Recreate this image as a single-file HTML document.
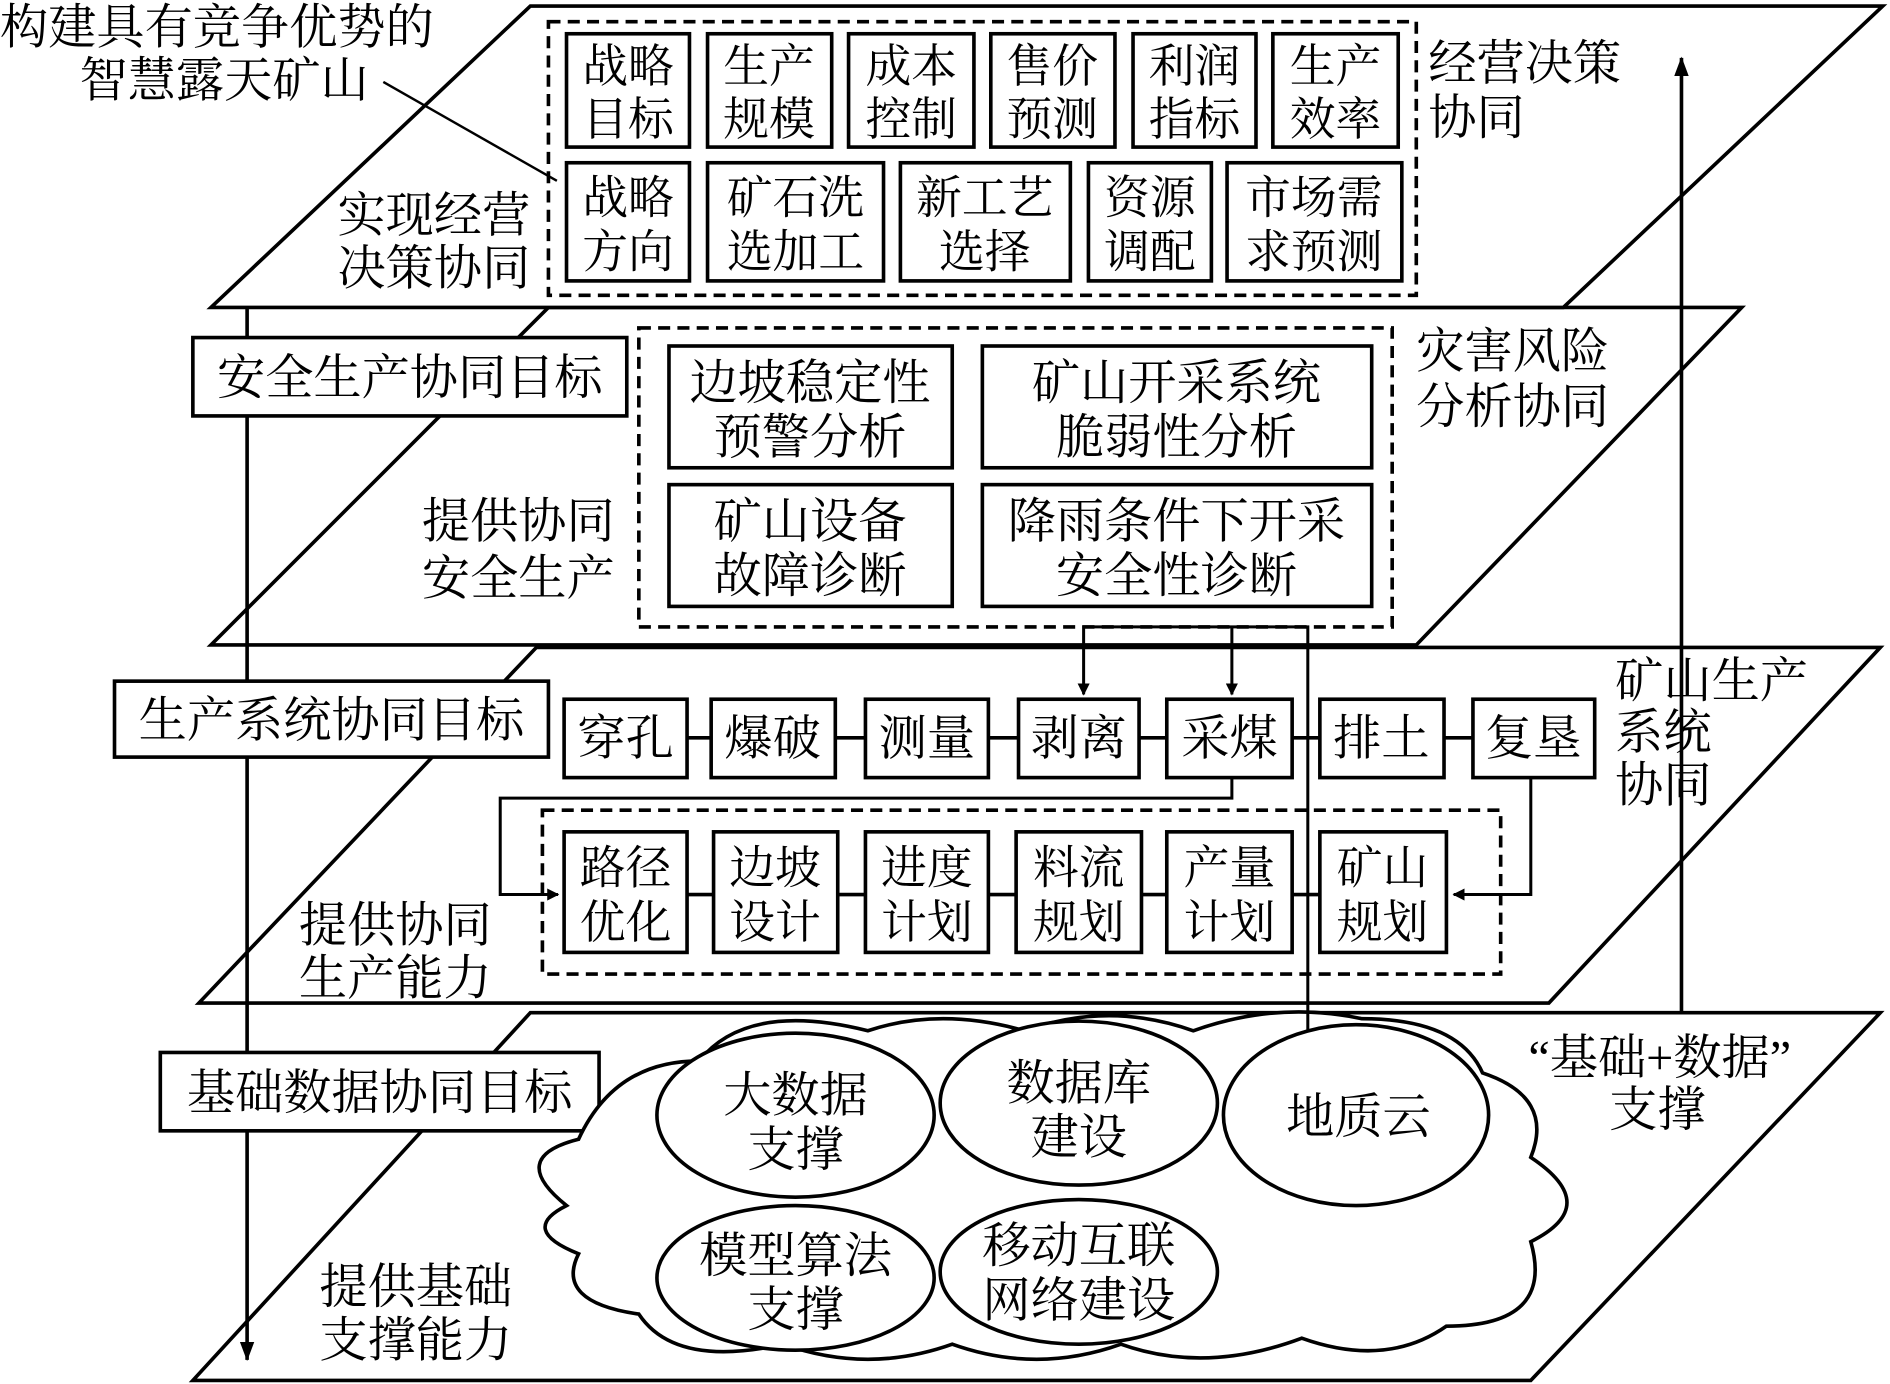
<!DOCTYPE html>
<html><head><meta charset="utf-8"><style>
html,body{margin:0;padding:0;background:#fff;}
svg{display:block;}
text{font-family:"Liberation Serif","Noto Serif CJK SC","Noto Sans CJK SC",serif;fill:#000;}
</style></head><body>
<svg width="1890" height="1384" viewBox="0 0 1568 1148" preserveAspectRatio="none" xmlns="http://www.w3.org/2000/svg">
<defs>
<marker id="ah" markerWidth="10" markerHeight="10" refX="9" refY="5" orient="auto" markerUnits="userSpaceOnUse"><path d="M0,0 L10,5 L0,10 Z" fill="#000"/></marker>
<marker id="ab" markerWidth="16" markerHeight="16" refX="15" refY="8" orient="auto" markerUnits="userSpaceOnUse"><path d="M0,2 L16,8 L0,14 Z" fill="#000"/></marker>
</defs>
<g stroke="#000" stroke-width="3" fill="#fff">
<polygon points="440,840 1560,840 1270,1145 160,1145"/>
<polygon points="445,537 1560,537 1285,832 165,832"/>
<polygon points="455,255 1445,255 1175,535 175,535"/>
<polygon points="440,5 1562,5 1297,255 175,255"/>
</g>
<g stroke="#000" stroke-width="3" fill="none">
<line x1="205" y1="255" x2="205" y2="1128" marker-end="url(#ab)"/>
<line x1="1395" y1="840" x2="1395" y2="48" marker-end="url(#ab)"/>
</g>
<g font-size="40">
<text x="0" y="36">构建具有竞争优势的</text>
<text x="66" y="80">智慧露天矿山</text>
</g>
<line x1="318" y1="68" x2="462" y2="150" stroke="#000" stroke-width="2"/>
<g font-size="40">
<text x="280" y="192">实现经营</text>
<text x="280" y="236">决策协同</text>
<text x="1185" y="66">经营决策</text>
<text x="1185" y="111">协同</text>
</g>
<rect x="455" y="18" width="720" height="227" fill="none" stroke="#000" stroke-width="3" stroke-dasharray="10,6"/>
<g stroke="#000" stroke-width="3" fill="#fff">
<rect x="470" y="28" width="102" height="94"/><rect x="587" y="28" width="103" height="94"/><rect x="704" y="28" width="104" height="94"/><rect x="822" y="28" width="103" height="94"/><rect x="940" y="28" width="102" height="94"/><rect x="1056" y="28" width="104" height="94"/>
<rect x="470" y="135" width="102" height="98"/><rect x="587" y="135" width="146" height="98"/><rect x="747" y="135" width="141" height="98"/><rect x="903" y="135" width="102" height="98"/><rect x="1018" y="135" width="145" height="98"/>
</g>
<g font-size="38" text-anchor="middle">
<text x="521" y="68">战略</text><text x="521" y="112">目标</text>
<text x="638" y="68">生产</text><text x="638" y="112">规模</text>
<text x="756" y="68">成本</text><text x="756" y="112">控制</text>
<text x="873" y="68">售价</text><text x="873" y="112">预测</text>
<text x="991" y="68">利润</text><text x="991" y="112">指标</text>
<text x="1108" y="68">生产</text><text x="1108" y="112">效率</text>
<text x="521" y="177">战略</text><text x="521" y="222">方向</text>
<text x="660" y="177">矿石洗</text><text x="660" y="222">选加工</text>
<text x="817" y="177">新工艺</text><text x="817" y="222">选择</text>
<text x="954" y="177">资源</text><text x="954" y="222">调配</text>
<text x="1090" y="177">市场需</text><text x="1090" y="222">求预测</text>
</g>
<rect x="160" y="280" width="360" height="65" fill="#fff" stroke="#000" stroke-width="3"/>
<text x="340" y="327" font-size="40" text-anchor="middle">安全生产协同目标</text>
<rect x="530" y="272" width="625" height="248" fill="none" stroke="#000" stroke-width="3" stroke-dasharray="10,6"/>
<g stroke="#000" stroke-width="3" fill="#fff">
<rect x="555" y="287" width="235" height="101"/><rect x="815" y="287" width="323" height="101"/>
<rect x="555" y="402" width="235" height="101"/><rect x="815" y="402" width="323" height="101"/>
</g>
<g font-size="40" text-anchor="middle">
<text x="672" y="331">边坡稳定性</text><text x="672" y="376">预警分析</text>
<text x="976" y="331">矿山开采系统</text><text x="976" y="376">脆弱性分析</text>
<text x="672" y="446">矿山设备</text><text x="672" y="491">故障诊断</text>
<text x="976" y="446">降雨条件下开采</text><text x="976" y="491">安全性诊断</text>
</g>
<g font-size="40">
<text x="350" y="446">提供协同</text><text x="350" y="493">安全生产</text>
<text x="1175" y="305">灾害风险</text><text x="1175" y="351">分析协同</text>
</g>
<g stroke="#000" stroke-width="2.5" fill="none">
<polyline points="1085,855 1085,520 899,520 899,576" marker-end="url(#ah)"/>
<line x1="1022" y1="520" x2="1022" y2="576" marker-end="url(#ah)"/>
</g>
<rect x="95" y="565" width="360" height="63" fill="#fff" stroke="#000" stroke-width="3"/>
<text x="275" y="611" font-size="40" text-anchor="middle">生产系统协同目标</text>
<g stroke="#000" stroke-width="3">
<line x1="570" y1="612" x2="1222" y2="612"/>
<line x1="570" y1="742" x2="1095" y2="742"/>
</g>
<g stroke="#000" stroke-width="3" fill="#fff">
<rect x="468" y="580" width="102" height="65"/><rect x="590" y="580" width="103" height="65"/><rect x="718" y="580" width="102" height="65"/><rect x="845" y="580" width="100" height="65"/><rect x="968" y="580" width="104" height="65"/><rect x="1095" y="580" width="103" height="65"/><rect x="1222" y="580" width="101" height="65"/>
</g>
<g font-size="40" text-anchor="middle">
<text x="519" y="626">穿孔</text><text x="641" y="626">爆破</text><text x="769" y="626">测量</text><text x="895" y="626">剥离</text><text x="1020" y="626">采煤</text><text x="1146" y="626">排土</text><text x="1272" y="626">复垦</text>
</g>
<rect x="450" y="672" width="795" height="136" fill="none" stroke="#000" stroke-width="3" stroke-dasharray="10,6"/>
<g stroke="#000" stroke-width="3" fill="#fff">
<rect x="468" y="690" width="102" height="100"/><rect x="592" y="690" width="103" height="100"/><rect x="718" y="690" width="102" height="100"/><rect x="843" y="690" width="104" height="100"/><rect x="968" y="690" width="104" height="100"/><rect x="1095" y="690" width="105" height="100"/>
</g>
<g font-size="38" text-anchor="middle">
<text x="519" y="733">路径</text><text x="519" y="778">优化</text>
<text x="643" y="733">边坡</text><text x="643" y="778">设计</text>
<text x="769" y="733">进度</text><text x="769" y="778">计划</text>
<text x="895" y="733">料流</text><text x="895" y="778">规划</text>
<text x="1020" y="733">产量</text><text x="1020" y="778">计划</text>
<text x="1147" y="733">矿山</text><text x="1147" y="778">规划</text>
</g>
<g stroke="#000" stroke-width="2.5" fill="none">
<polyline points="1022,645 1022,662 415,662 415,742 463,742" marker-end="url(#ah)"/>
<polyline points="1270,645 1270,742 1206,742" marker-end="url(#ah)"/>
</g>
<g font-size="40">
<text x="1340" y="578">矿山生产</text><text x="1340" y="621">系统</text><text x="1340" y="665">协同</text>
<text x="248" y="781">提供协同</text><text x="248" y="825">生产能力</text>
</g>
<rect x="133" y="873" width="364" height="65" fill="#fff" stroke="#000" stroke-width="3"/>
<text x="315" y="920" font-size="40" text-anchor="middle">基础数据协同目标</text>
<path d="M470,1000 Q420,960 480,945 Q510,880 580,880 Q620,830 720,855 Q780,835 850,855 Q920,830 990,855 Q1060,830 1130,845 Q1210,845 1230,890 Q1290,910 1270,960 Q1330,1000 1270,1030 Q1290,1100 1200,1100 Q1150,1135 1080,1110 Q1000,1140 930,1115 Q860,1140 790,1115 Q720,1140 650,1115 Q560,1135 530,1090 Q460,1080 480,1040 Q430,1020 470,1000 Z" fill="#fff" stroke="#000" stroke-width="3"/>
<line x1="1085" y1="840" x2="1085" y2="855" stroke="#000" stroke-width="2.5"/>
<g stroke="#000" stroke-width="3" fill="#fff">
<ellipse cx="660" cy="925" rx="115" ry="68"/>
<ellipse cx="895" cy="915" rx="115" ry="68"/>
<ellipse cx="1125" cy="925" rx="110" ry="75"/>
<ellipse cx="660" cy="1060" rx="115" ry="60"/>
<ellipse cx="895" cy="1055" rx="115" ry="60"/>
</g>
<g font-size="40" text-anchor="middle">
<text x="660" y="922">大数据</text><text x="660" y="967">支撑</text>
<text x="895" y="912">数据库</text><text x="895" y="957">建设</text>
<text x="1127" y="940">地质云</text>
<text x="660" y="1055">模型算法</text><text x="660" y="1100">支撑</text>
<text x="895" y="1047">移动互联</text><text x="895" y="1092">网络建设</text>
</g>
<g font-size="40">
<text x="1268" y="891">“基础+数据”</text><text x="1335" y="934">支撑</text>
<text x="265" y="1081">提供基础</text><text x="265" y="1125">支撑能力</text>
</g>
</svg>
</body></html>
